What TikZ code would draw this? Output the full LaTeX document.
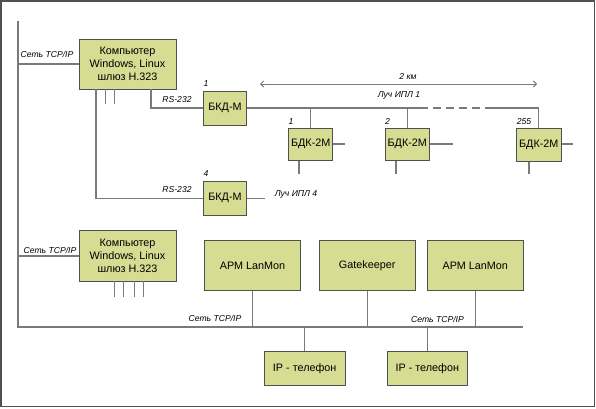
\documentclass[tikz,border=0pt]{standalone}
\usepackage{fontspec}
\setmainfont{Liberation Sans}
\usetikzlibrary{arrows.meta}
\definecolor{boxc}{HTML}{D6DC92}
\definecolor{edgec}{HTML}{505050}
\definecolor{linec}{HTML}{7A7A7A}
\tikzset{
  blk/.style={draw=edgec, fill=boxc, line width=1pt, inner sep=0pt, align=center,
    font=\fontsize{10.8}{13}\selectfont},
  wire/.style={draw=linec, line width=1.1pt},
  lbl/.style={inner sep=0pt, font=\fontsize{8.6}{10}\selectfont\itshape},
}
\begin{document}
\begin{tikzpicture}[x=1pt,y=-1pt]
\useasboundingbox (0,0) rectangle (596,408);
\draw[edgec, line width=1.3pt] (1,1) rectangle (594.5,406.5);

% boxes
\node[blk, minimum width=97pt, minimum height=50pt] (comp1) at (127.5,64) {Компьютер\\Windows, Linux\\шлюз Н.323};
\node[blk, minimum width=97pt, minimum height=50.5pt] (comp2) at (127.5,256) {Компьютер\\Windows, Linux\\шлюз Н.323};
\node[blk, minimum width=43.5pt, minimum height=34pt] (bkd1) at (225,108) {БКД-М};
\node[blk, minimum width=43.5pt, minimum height=33.5pt] (bkd4) at (225,198.3) {БКД-М};
\node[blk, minimum width=44.5pt, minimum height=32pt] (bdk1) at (310.7,144) {БДК-2М};
\node[blk, minimum width=43.5pt, minimum height=32pt] (bdk2) at (407.3,144) {БДК-2М};
\node[blk, minimum width=44.5pt, minimum height=33pt] (bdk255) at (538.8,144.5) {БДК-2М};
\node[blk, minimum width=96.7pt, minimum height=50pt] (arm1) at (252.5,265.7) {АРМ LanMon};
\node[blk, minimum width=95.7pt, minimum height=50pt] (gk) at (367.2,265.7) {Gatekeeper};
\node[blk, minimum width=96pt, minimum height=50pt] (arm2) at (475.3,265.7) {АРМ LanMon};
\node[blk, minimum width=80.7pt, minimum height=34pt] (ip1) at (304.7,368.3) {IP - телефон};
\node[blk, minimum width=80pt, minimum height=34pt] (ip2) at (427.3,368.3) {IP - телефон};

% coordinates
\coordinate (ltop) at (18,21);
\coordinate (lbot) at (18,327);
\coordinate (rbot) at (523,327);
\coordinate (l1) at (18,64);
\coordinate (l2) at (18,256);

% network backbone
\draw[wire] (ltop) -- (lbot) -- (rbot);
\draw[wire] (l1) -- (comp1.west);
\draw[wire] (l2) -- (comp2.west);

% comp1 lines
\coordinate (c1a) at (96,89);
\coordinate (c1b) at (96,198.3);
\draw[wire] (c1a) -- (c1b) -- (bkd4.west);
\coordinate (s1a) at (105.3,89); \coordinate (s1b) at (105.3,104);
\coordinate (s2a) at (114.3,89); \coordinate (s2b) at (114.3,104);
\draw[wire] (s1a) -- (s1b);
\draw[wire] (s2a) -- (s2b);
\coordinate (rsa) at (151,89);
\coordinate (rsb) at (151,108);
\draw[wire] (rsa) -- (rsb) -- (bkd1.west);

% ray 1
\coordinate (r1) at (428,108);
\coordinate (r2) at (488,108);
\coordinate (r3) at (538.8,108);
\draw[wire] (bkd1.east) -- (r1);
\draw[wire, dash pattern=on 8pt off 5pt, dash phase=8pt] (r1) -- (r2);
\draw[wire] (r2) -- (r3) -- (bdk255.north);
\coordinate (t1) at (310.7,108);
\coordinate (t2) at (407.3,108);
\draw[wire] (t1) -- (bdk1.north);
\draw[wire] (t2) -- (bdk2.north);

% side and bottom stubs
\coordinate (e1) at (345,144); \draw[wire] (bdk1.east|-e1) -- (e1);
\coordinate (e2) at (453,144); \draw[wire] (bdk2.east|-e2) -- (e2);
\coordinate (e3) at (573,144); \draw[wire] (bdk255.east|-e3) -- (e3);
\coordinate (b1) at (299,173.5); \draw[wire] (bdk1.south-|b1) -- (b1);
\coordinate (b2) at (396,173.5); \draw[wire] (bdk2.south-|b2) -- (b2);
\coordinate (b3) at (529,174); \draw[wire] (bdk255.south-|b3) -- (b3);

% ray 4
\coordinate (r4) at (265,198.3);
\draw[wire] (bkd4.east) -- (r4);

% comp2 stubs
\foreach \xx/\nm in {114.3/q1,123.7/q2,134.3/q3,143.3/q4}{
  \coordinate (\nm a) at (\xx,281.3);
  \coordinate (\nm b) at (\xx,297);
  \draw[wire] (\nm a) -- (\nm b);
}

% bottom network
\coordinate (n1) at (252.5,327); \draw[wire] (arm1.south) -- (n1);
\coordinate (n2) at (367.2,327); \draw[wire] (gk.south) -- (n2);
\coordinate (n3) at (475.3,327); \draw[wire] (arm2.south) -- (n3);
\coordinate (n4) at (304.7,327); \draw[wire] (ip1.north) -- (n4);
\coordinate (n5) at (427.3,327); \draw[wire] (ip2.north) -- (n5);

% distance arrow
\coordinate (aL) at (260,84);
\coordinate (aR) at (537,84);
\draw[wire, line width=1pt, {Straight Barb[length=3pt,width=6pt]}-{Straight Barb[length=3pt,width=6pt]}] (aL) -- (aR);

% labels
\node[lbl] (t_net1) at (47,54) {Сеть TCP/IP};
\node[lbl] (t_net2) at (50,250) {Сеть TCP/IP};
\node[lbl] (t_rs1) at (177,99.5) {RS-232};
\node[lbl] (t_rs4) at (177,189.5) {RS-232};
\node[lbl] (t_n1) at (206,84) {1};
\node[lbl] (t_n4) at (206,174) {4};
\node[lbl] (t_b1) at (291,121.5) {1};
\node[lbl] (t_b2) at (387.5,121.5) {2};
\node[lbl] (t_b255) at (524,121.5) {255};
\node[lbl] (t_km) at (408,76) {2 км};
\node[lbl] (t_ray1) at (399,95) {Луч ИПЛ 1};
\node[lbl] (t_ray4) at (296,194) {Луч ИПЛ 4};
\node[lbl] (t_net3) at (215,318.5) {Сеть TCP/IP};
\node[lbl] (t_net4) at (437.5,319) {Сеть TCP/IP};
\end{tikzpicture}
\end{document}
